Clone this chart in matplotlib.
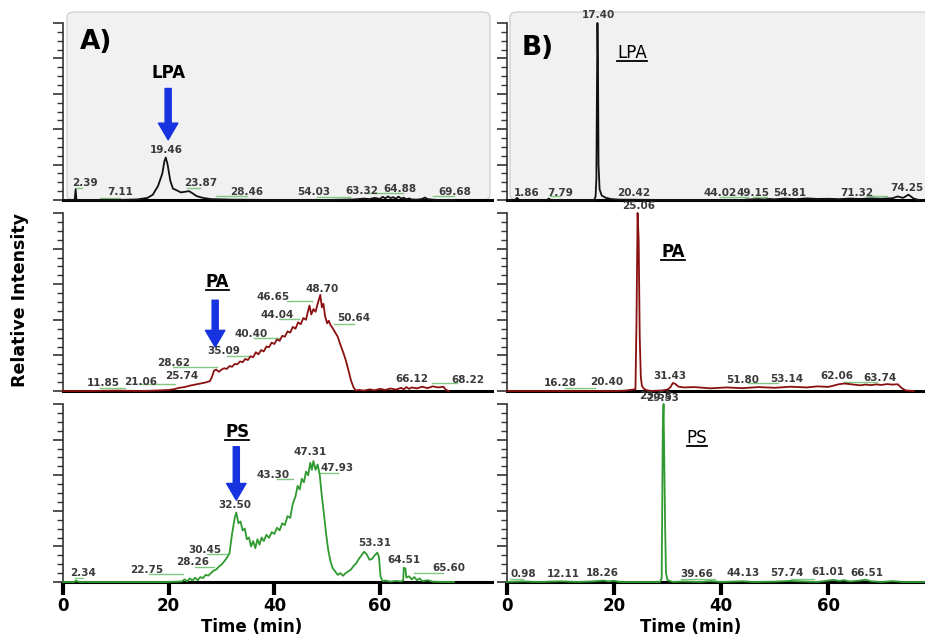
import matplotlib
matplotlib.use('Agg')
import matplotlib.pyplot as plt
from matplotlib import font_manager
from matplotlib.patches import FancyBboxPatch
from matplotlib.lines import Line2D
import numpy as np

# --- chromatogram traces: (time in min, relative intensity in %) ---
lpa_a = [(0, 0), (2.2, 0), (2.39, 6), (2.55, 0), (3, 0), (10, 0), (14, 0.3), (16, 1.2),
         (17, 3), (18, 8), (18.8, 15), (19.2, 22), (19.46, 24), (19.8, 20), (20.3, 11),
         (20.8, 6.5), (21.5, 5.5), (22.3, 4.3), (23.0, 4.6), (23.87, 5.0), (24.5, 3.8),
         (25.3, 2.2), (26.5, 1.2), (28, 0.5), (32, 0.2), (40, 0), (50, 0), (55, 0.3),
         (57, 0.8), (58, 0.5), (59, 1.2), (60, 0.6), (60.5, 1.8), (61, 0.9), (61.5, 2.0),
         (62, 1.1), (62.5, 1.6), (63, 0.7), (63.5, 1.9), (64, 0.8), (64.5, 1.3), (65, 0.4),
         (65.5, 0.9), (66, 0.3), (67, 0.2), (68, 0.6), (68.5, 1.4), (69, 0.5), (70, 0.2),
         (71, 0), (74, 0)]

pa_a = [(0, 0), (5, 0), (10, 0.2), (15, 0), (18, 0.3), (20, 0.6), (21, 1.0), (22, 1.8),
        (23, 2.2), (24, 3.0), (25, 3.6), (26, 4.2), (27, 4.8), (27.8, 5.5), (28.2, 8),
        (28.6, 11.5), (29, 12), (29.5, 10.8), (30, 12), (30.5, 12.8), (31, 12.4), (31.5, 14),
        (32, 13.6), (32.5, 15.2), (33, 15), (33.5, 16.6), (34, 16.2), (34.5, 18), (35, 17.4),
        (35.5, 19.5), (36, 19), (36.5, 21.8), (37, 20.6), (37.5, 23), (38, 22.2), (38.5, 25),
        (39, 24.6), (39.5, 27.2), (40, 26.4), (40.5, 29), (41, 28.2), (41.5, 31), (42, 30.5),
        (42.5, 33.5), (43, 32.8), (43.5, 36), (44, 35), (44.5, 38.6), (45, 37.5), (45.5, 41),
        (46, 40), (46.3, 44), (46.65, 48), (47, 43), (47.4, 46), (47.8, 44.5), (48.2, 49),
        (48.7, 54), (49, 47), (49.3, 49), (49.6, 42), (50, 38), (50.3, 39.5), (50.64, 37),
        (51, 35.5), (51.5, 33), (52, 30.5), (52.5, 26), (53, 22), (53.5, 17.5), (54, 12),
        (54.5, 6), (55, 2), (55.4, 0.3), (56, 0.6), (57, 0.2), (58, 0.9), (59, 0.4), (60, 1.2),
        (61, 0.6), (62, 1.4), (63, 0.8), (64, 1.8), (64.5, 0.9), (65, 2.2), (65.5, 1.2),
        (66, 2.0), (67, 1.5), (68, 2.4), (69, 1.6), (70, 2.6), (71, 2.0), (72, 2.4),
        (72.5, 0.6), (73, 0)]

ps_a = [(0, 0), (2.2, 0), (2.4, 0.8), (3, 0), (10, 0), (20, 0), (22.5, 0.3), (23, 1.5),
        (23.5, 0.4), (24, 2.0), (24.5, 0.8), (25, 2.4), (25.5, 1.0), (26, 2.8), (26.5, 2.2),
        (27, 4.0), (27.5, 3.6), (28, 5.0), (28.5, 6.4), (29, 7.0), (29.5, 8.6), (30, 9.8),
        (30.5, 11.5), (31, 13.5), (31.5, 16), (32, 27), (32.5, 36), (32.8, 39), (33.2, 33),
        (33.6, 34), (34, 29), (34.4, 30), (34.8, 24), (35.2, 25), (35.6, 20), (36, 23),
        (36.4, 19), (36.8, 24), (37.2, 21), (37.6, 25), (38, 23), (38.5, 26.5), (39, 24.8),
        (39.5, 28), (40, 27), (40.5, 30.5), (41, 29), (41.5, 33), (42, 32), (42.5, 37),
        (43, 36), (43.5, 44), (44, 48), (44.4, 54), (44.8, 52), (45.2, 58), (45.6, 56),
        (46, 62), (46.4, 60), (46.8, 67), (47.1, 63), (47.4, 68), (47.8, 63), (48.2, 66),
        (48.6, 60), (49, 48), (49.4, 38), (49.8, 27), (50.2, 18), (50.6, 12), (51, 8),
        (51.5, 6), (52, 4), (52.5, 5), (53, 3.5), (53.5, 5), (54, 6), (54.5, 7), (55, 9),
        (55.5, 10.5), (56, 13), (56.5, 15), (57, 17), (57.5, 15.5), (58, 12.5), (58.5, 13),
        (59, 15), (59.5, 16.5), (59.8, 14), (60.1, 3), (60.5, 0.5), (61, 0.8), (62, 0.2),
        (63, 0.6), (64, 0.3), (64.4, 1), (64.5, 8), (64.8, 7.6), (65, 2.5), (65.5, 3.2),
        (66, 1.5), (66.5, 2.8), (67, 1.0), (67.5, 2.0), (68, 0.5), (69, 1.0), (70, 0.2),
        (72, 0), (74, 0)]

lpa_b = [(0, 0), (1.5, 0), (1.86, 1.2), (2.3, 0), (5, 0), (7.5, 0), (7.79, 0.8), (8.2, 0),
         (12, 0), (16.3, 0), (16.55, 2), (16.7, 12), (16.8, 60), (16.9, 100), (17.0, 78),
         (17.1, 20), (17.3, 6), (17.7, 2.5), (18.5, 1.2), (19.5, 0.5), (21, 0.2), (30, 0),
         (44, 0), (45, 0.3), (47, 0.5), (48, 0.3), (49, 0.6), (50, 0.4), (52, 0.8), (54, 0.5),
         (56, 0.9), (58, 0.6), (60, 0.7), (62, 0.5), (64, 0.8), (66, 0.6), (68, 0.9),
         (70, 0.7), (72, 1.0), (73, 2.0), (74, 1.2), (75, 3.0), (76, 0.8), (77, 0)]

pa_b = [(0, 0), (10, 0), (15, 0), (20, 0), (22, 0.2), (24.0, 1), (24.2, 40), (24.4, 100),
        (24.6, 85), (24.8, 30), (25.0, 8), (25.2, 3), (25.5, 1.5), (26, 0.5), (27, 0),
        (29, 0.3), (30, 0.8), (30.5, 2), (31.0, 4.5), (31.43, 4), (32, 2.5), (33, 2),
        (35, 2.2), (38, 1.5), (41, 2.0), (44, 1.6), (47, 2.2), (50, 1.8), (53, 2.4),
        (56, 2.0), (58, 2.6), (60, 2.3), (61, 3.0), (62, 3.8), (63, 4.2), (64, 3.9),
        (65, 3.5), (66, 3.2), (67, 3.6), (68, 3.3), (69, 3.7), (70, 3.4), (71, 3.9),
        (72, 3.6), (73, 3.8), (73.8, 1.5), (74.5, 0.3), (76, 0)]

ps_b = [(0, 0), (3, 0.3), (6, 0), (10, 0.4), (13, 0), (16, 0.3), (18, 0.8), (19, 0.3),
        (20, 0.7), (21, 0), (28.6, 0), (28.9, 2), (29.0, 40), (29.1, 85), (29.25, 100),
        (29.4, 65), (29.55, 30), (29.7, 5), (30, 1), (31, 0), (33, 0.3), (36, 0), (38, 0.5),
        (40, 0), (44, 0.4), (46, 0), (50, 0.2), (53, 0.6), (55, 0.3), (58, 0), (60, 0.8),
        (61, 1.2), (62, 0.6), (63, 1.0), (64, 0.3), (66, 0.8), (67, 1.3), (68, 0.4), (70, 0),
        (72, 0.5), (74, 0), (78, 0)]

# peak labels: (text, time, intensity)
lbl_lpa_a = [('2.39', 4.2, 9.6), ('7.11', 10.8, 4.5), ('19.46', 19.5, 28), ('23.87', 26, 9.6),
             ('28.46', 34.8, 4.5), ('54.03', 47.4, 4.5), ('63.32', 56.6, 5), ('64.88', 63.8, 6),
             ('69.68', 74.2, 4.5)]
lbl_pa_a = [('11.85', 7.6, 4.5), ('21.06', 14.6, 5), ('25.74', 22.5, 8.6), ('28.62', 20.9, 16),
            ('35.09', 30.4, 22.5), ('40.40', 35.7, 32), ('44.04', 40.5, 42.7), ('46.65', 39.8, 53),
            ('48.70', 49, 57.3), ('50.64', 55, 41), ('66.12', 66, 6.7), ('68.22', 76.7, 6.2)]
lbl_ps_a = [('2.34', 3.8, 5), ('22.75', 15.9, 6.7), ('28.26', 24.6, 11), ('30.45', 26.9, 18),
            ('32.50', 32.6, 43), ('43.30', 39.8, 60), ('47.31', 46.8, 73), ('47.93', 51.9, 64),
            ('53.31', 59, 22), ('64.51', 64.5, 12.4), ('65.60', 73, 7.9)]
lbl_lpa_b = [('17.40', 17, 104.5), ('1.86', 3.7, 4), ('7.79', 9.9, 4), ('20.42', 23.6, 4),
             ('44.02', 39.8, 4), ('49.15', 46, 4), ('54.81', 52.9, 4), ('71.32', 65.4, 4),
             ('74.25', 74.8, 6.8)]
lbl_pa_b = [('25.06', 24.5, 104), ('16.28', 9.9, 4.5), ('20.40', 18.7, 5), ('23.53', 27.7, -3.0),
            ('31.43', 30.5, 8.4), ('51.80', 44.1, 6.2), ('53.14', 52.3, 6.5), ('62.06', 61.7, 8.4),
            ('63.74', 69.7, 7.2)]
lbl_ps_b = [('29.53', 29, 103.2), ('0.98', 3, 4.5), ('12.11', 10.5, 4.5), ('18.26', 17.9, 5),
            ('39.66', 35.5, 4.5), ('44.13', 44.1, 5), ('57.74', 52.3, 5), ('61.01', 60, 5.8),
            ('66.51', 67.3, 5)]

# green integration marks: (t_start, t_end, level)
marks_lpa_a = [(2.3, 3.6, 6.8), (7, 10.8, 1.2), (23.5, 26, 6.8), (29, 34.8, 2),
               (48, 54.4, 1.7), (57.2, 64.4, 4), (70, 74, 2.3)]
marks_pa_a = [(7, 11.7, 1.7), (14.6, 21.2, 4), (20.9, 29.1, 13.5), (31, 35.4, 19.7),
              (36.1, 40.8, 29.8), (40.8, 44.6, 40.4), (42.4, 47.1, 50.6), (51.3, 55, 37.6),
              (69.8, 74.5, 4.5)]
marks_ps_a = [(2.3, 3.8, 2.2), (16.2, 22.8, 4.5), (25, 28.5, 8.4), (27.2, 31, 15.7),
              (40.5, 43.6, 58), (48.7, 52, 61), (66.5, 72, 5)]
marks_lpa_b = [(8, 9.9, 2), (39.8, 45, 1.5), (46, 48.6, 1.5), (67, 71, 2)]
marks_pa_b = [(10.8, 16.4, 1.7), (45, 50.6, 4.5), (62.9, 69.2, 4.9)]
marks_ps_b = [(0.5, 3, 1.5), (15.5, 21.7, 0.8), (32.5, 38.8, 1.5), (53, 57.4, 1.7)]

names = {f.name for f in font_manager.fontManager.ttflist}
NARROW = 'Liberation Sans Narrow' if 'Liberation Sans Narrow' in names else 'DejaVu Sans'
narrow_ok = NARROW != 'DejaVu Sans'

fig = plt.figure(figsize=(9.25, 6.37), dpi=100)
W, H = 925.0, 637.0

def px_rect(x0, y0, x1, y1):
    return [x0 / W, 1 - y1 / H, (x1 - x0) / W, (y1 - y0) / H]

# grey backgrounds behind the two top panels
for x0, x1 in [(67, 490), (510, 930)]:
    fig.patches.append(FancyBboxPatch((x0 / W, 1 - 200 / H), (x1 - x0) / W, 188 / H,
                                      boxstyle='round,pad=0,rounding_size=0.008',
                                      transform=fig.transFigure, facecolor='#f1f1f1',
                                      edgecolor='#d2d2d2', linewidth=1.0, zorder=-5))

rows = [(23, 200), (213, 391), (404, 582)]
cols = [(63, 492, 81.2), (507, 925, 78.1)]

traces = [[lpa_a, pa_a, ps_a], [lpa_b, pa_b, ps_b]]
labels = [[lbl_lpa_a, lbl_pa_a, lbl_ps_a], [lbl_lpa_b, lbl_pa_b, lbl_ps_b]]
marks = [[marks_lpa_a, marks_pa_a, marks_ps_a], [marks_lpa_b, marks_pa_b, marks_ps_b]]
colors = ['#111111', '#8a1010', '#2f9a2f']

axes = {}
for c, (x0, x1, xmax) in enumerate(cols):
    for r, (y0, y1) in enumerate(rows):
        ax = fig.add_axes(px_rect(x0, y0, x1, y1))
        ax.set_facecolor('none')
        axes[(c, r)] = ax
        t = [p[0] for p in traces[c][r]]
        v = [p[1] for p in traces[c][r]]
        ax.plot(t, v, color=colors[r], lw=1.3, zorder=3, clip_on=False)
        for a, b, lv in marks[c][r]:
            ax.plot([a, b], [lv, lv], color='#82c882', lw=1.0, zorder=2)
        for txt, x, y in labels[c][r]:
            ax.text(x, y, txt, fontsize=7.5, fontweight='bold', color='#3a3a3a',
                    ha='center', va='center', zorder=4)
        ax.set_xlim(0, xmax)
        ax.set_ylim(0, 100)
        ax.spines['top'].set_visible(False)
        ax.spines['right'].set_visible(False)
        ax.spines['left'].set_bounds(0, 100)
        ax.spines['left'].set_color('#333333')
        ax.spines['left'].set_linewidth(1.2)
        ax.spines['bottom'].set_linewidth(2.2)
        ax.spines['bottom'].set_color('black')
        ax.set_yticks(np.arange(0, 101, 20))
        ax.set_yticks(np.arange(0, 101, 5), minor=True)
        ax.tick_params(axis='y', which='major', length=7, width=1.2, color='#333333',
                       labelleft=False)
        ax.tick_params(axis='y', which='minor', length=4, width=1.0, color='#333333')
        if r == 2:
            ax.set_xticks([0, 20, 40, 60])
            ax.tick_params(axis='x', length=9, width=3, color='black', pad=2)
            for lab in ax.get_xticklabels():
                lab.set_fontfamily(NARROW)
                lab.set_fontweight('bold')
                lab.set_fontsize(13 if narrow_ok else 12)
            ax.set_xlabel('Time (min)', fontfamily=NARROW, fontweight='bold',
                          fontsize=14 if narrow_ok else 12)
            ax.xaxis.set_label_coords(0.44, -0.2)
        else:
            ax.set_xticks([])

# panel captions, compound names and arrows
blue = '#1733e0'
arrow_style = 'simple,head_length=0.6,head_width=0.7,tail_width=0.22'
underlined = []

ax = axes[(0, 0)]
ax.text(3.2, 89, 'A)', fontsize=19, fontweight='bold', ha='left', va='center')
ax.text(19.9, 72, 'LPA', fontsize=12, fontweight='bold', ha='center', va='center')
ax.annotate('', xy=(19.9, 34), xytext=(19.9, 63),
            arrowprops=dict(arrowstyle=arrow_style, color=blue, shrinkA=0, shrinkB=0,
                            mutation_scale=20))
ax = axes[(0, 1)]
underlined.append(ax.text(29.2, 61, 'PA', fontsize=12, fontweight='bold', ha='center', va='center'))
ax.annotate('', xy=(28.8, 24.7), xytext=(28.8, 51),
            arrowprops=dict(arrowstyle=arrow_style, color=blue, shrinkA=0, shrinkB=0,
                            mutation_scale=20))
ax = axes[(0, 2)]
underlined.append(ax.text(33, 84, 'PS', fontsize=12, fontweight='bold', ha='center', va='center'))
ax.annotate('', xy=(32.8, 46), xytext=(32.8, 76),
            arrowprops=dict(arrowstyle=arrow_style, color=blue, shrinkA=0, shrinkB=0,
                            mutation_scale=20))

ax = axes[(1, 0)]
ax.text(5.8, 86, 'B)', fontsize=19, fontweight='bold', ha='center', va='center')
underlined.append(ax.text(23.4, 83, 'LPA', fontsize=12, ha='center', va='center'))
ax = axes[(1, 1)]
underlined.append(ax.text(31, 78, 'PA', fontsize=12, fontweight='bold', ha='center', va='center'))
ax = axes[(1, 2)]
underlined.append(ax.text(35.5, 81, 'PS', fontsize=12, ha='center', va='center'))

fig.text(20 / W, 1 - 300 / H, 'Relative Intensity', rotation=90, fontfamily=NARROW,
         fontweight='bold', fontsize=14.5 if narrow_ok else 12.5, ha='center', va='center')

# underline the compound names
fig.canvas.draw()
renderer = fig.canvas.get_renderer()
for txt in underlined:
    bb = txt.get_window_extent(renderer)
    yy = (bb.y0 + 1) / fig.bbox.height
    fig.add_artist(Line2D([bb.x0 / fig.bbox.width, bb.x1 / fig.bbox.width], [yy, yy],
                          color='black', lw=1.3, transform=fig.transFigure))

fig.savefig('out.png', dpi=100)
